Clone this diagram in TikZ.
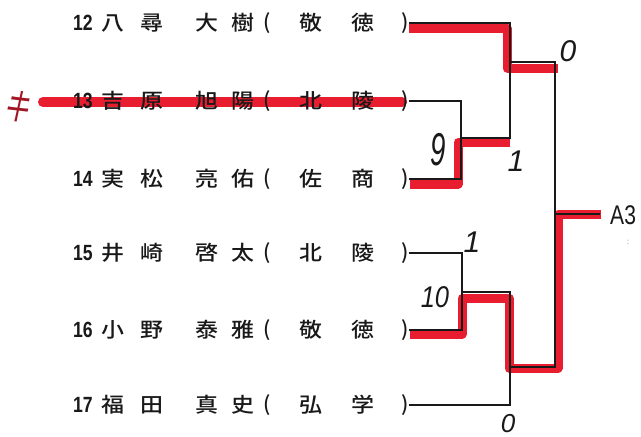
\documentclass[tikz,border=0pt]{standalone}
\usepackage{fontspec}
\newfontfamily\jp{Noto Sans CJK JP}[UprightFont=* Medium]
\newfontfamily\jpr{Noto Sans CJK JP}
\newfontfamily\lat{Liberation Sans}
\definecolor{mk}{RGB}{232,30,48}
\definecolor{ink}{RGB}{25,25,25}
\tikzset{
  ch/.style={font=\jp\fontsize{20.5}{20}\selectfont, inner sep=0pt, anchor=center, text=ink},
  num/.style={font=\lat\bfseries\fontsize{22}{22}\selectfont, inner sep=0pt, anchor=center, text=ink},
  wire/.style={line width=1.3pt, ink},
  marker/.style={line width=9pt, mk, line join=round, line cap=round},
  hw/.style={font=\lat\itshape\fontsize{30}{30}\selectfont, inner sep=0pt, text=ink},
}
\begin{document}
\begin{tikzpicture}[x=1pt,y=-1pt]
\useasboundingbox (0,0) rectangle (641,437);
\fill[white] (0,0) rectangle (641,437);
% ---------- red marker (under everything) ----------
\coordinate (s13a) at (43,102);
\coordinate (s13b) at (402,102);
\draw[marker, line width=10pt] (s13a) -- (s13b);
\coordinate (k1) at (409,28);
\coordinate (k2) at (507,28);
\coordinate (k3) at (507,68);
\coordinate (k4) at (558,68);
\draw[marker, line cap=butt] (k1) -- (k2) -- (k3) -- (k4);
\coordinate (q1) at (410,184);
\coordinate (q2) at (458,184);
\coordinate (q3) at (458,142);
\coordinate (q4) at (510,142);
\draw[marker, line cap=butt] (q1) -- (q2) -- (q3) -- (q4);
\coordinate (w1) at (410,334);
\coordinate (w2) at (462,334);
\coordinate (w3) at (462,298);
\coordinate (w4) at (509,298);
\coordinate (w5) at (509,368);
\coordinate (w6) at (558,368);
\coordinate (w7) at (558,214);
\coordinate (w8) at (601,214);
\draw[marker, line cap=butt] (w1) -- (w2) -- (w3) -- (w4) -- (w5) -- (w6) -- (w7) -- (w8);
% ---------- entries ----------
\foreach \y/\n/\a/\b/\c/\d/\e/\f/\id in {
  23/12/八/尋/大/樹/敬/徳/r12,
  101/13/吉/原/旭/陽/北/陵/r13,
  179/14/実/松/亮/佑/佐/商/r14,
  253/15/井/崎/啓/太/北/陵/r15,
  330/16/小/野/泰/雅/敬/徳/r16,
  405/17/福/田/真/史/弘/学/r17}{
  \node[num] (\id-n) at (83,\y) {\scalebox{0.8}[1]{\n}};
  \node[ch] (\id-a) at (113,\y) {\scalebox{1.12}[1]{\a}};
  \node[ch] (\id-b) at (152,\y) {\scalebox{1.12}[1]{\b}};
  \node[ch] (\id-c) at (207,\y) {\scalebox{1.12}[1]{\c}};
  \node[ch] (\id-d) at (243,\y) {\scalebox{1.12}[1]{\d}};
  \node[ch] (\id-o) at (267,\y) {(};
  \node[ch] (\id-e) at (311,\y) {\scalebox{1.12}[1]{\e}};
  \node[ch] (\id-f) at (363,\y) {\scalebox{1.12}[1]{\f}};
  \node[ch] (\id-p) at (405,\y) {)};
}
% ---------- bracket ----------
\coordinate (m1t) at (461,101);
\coordinate (m1b) at (461,179);
\coordinate (m1o) at (461,138);
\coordinate (m2t) at (510,23);
\coordinate (m2b) at (510,138);
\coordinate (m2o) at (510,62);
\coordinate (m3t) at (462,253);
\coordinate (m3b) at (462,330);
\coordinate (m3o) at (462,292);
\coordinate (m4t) at (510,292);
\coordinate (m4b) at (510,405);
\coordinate (m4o) at (510,367);
\coordinate (ft) at (555,62);
\coordinate (fb) at (555,367);
\coordinate (fo) at (555,214);
\coordinate (fe) at (600,214);
\draw[wire] (r12-p.east) -- (m2t) -- (m2b) -- (m1o);
\draw[wire] (r13-p.east) -- (m1t) -- (m1b) -- (r14-p.east);
\draw[wire] (r15-p.east) -- (m3t) -- (m3b) -- (r16-p.east);
\draw[wire] (m3o) -- (m4t) -- (m4b) -- (r17-p.east);
\draw[wire] (m2o) -- (ft) -- (fb) -- (m4o);
\draw[wire] (fo) -- (fe);
\node[font=\lat\fontsize{27}{27}\selectfont, inner sep=0pt, anchor=west, text=ink] (a3) at (610,215) {\scalebox{0.78}[1]{A3}};
\node[font=\lat\fontsize{8}{8}\selectfont, inner sep=0pt, text=gray] (dot) at (628,242) {:};
% ---------- handwriting ----------
\node[hw] (h0a) at (568,51) {0};
\node[hw] (h9) at (438,150) {\scalebox{0.6}[1]{\fontsize{46}{46}\selectfont 9}};
\node[hw] (h1a) at (516,161) {1};
\node[hw] (h1b) at (472,242) {1};
\node[hw] (h10) at (435,297) {\scalebox{0.85}[1]{10}};
\node[hw, font=\lat\itshape\fontsize{26}{26}\selectfont] (h0b) at (508,424) {0};
\node[font=\jpr\fontsize{30}{30}\selectfont, inner sep=0pt, text=mk!70!black, rotate=-20] (ki) at (19,107) {\scalebox{0.85}[1.25]{キ}};
\end{tikzpicture}
\end{document}
